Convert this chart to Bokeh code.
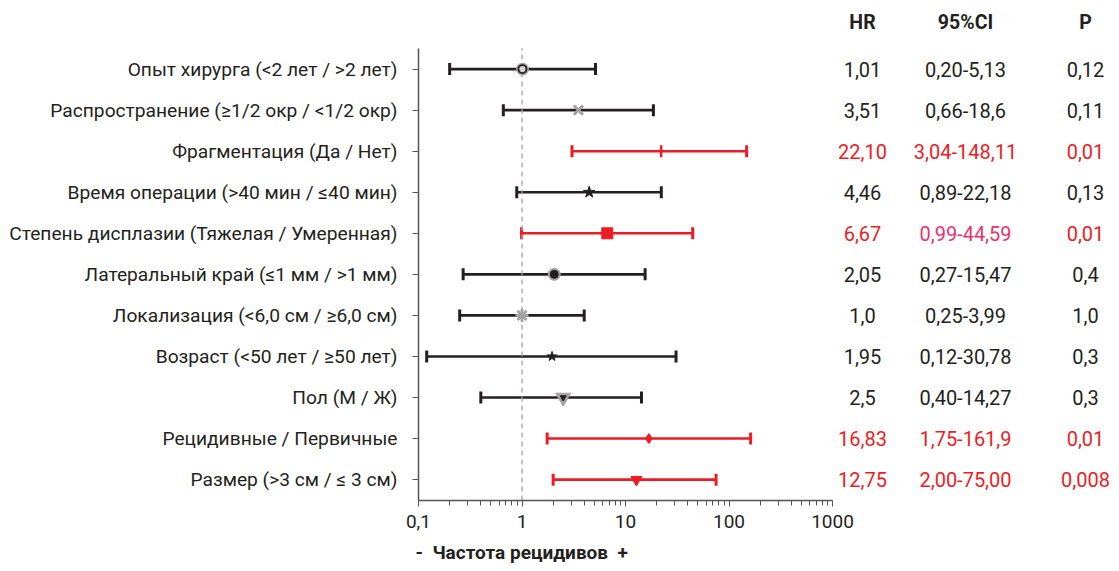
import math
from bokeh.plotting import figure
from bokeh.models import (ColumnDataSource, Whisker, TeeHead, FixedTicker,
                          CustomJSTickFormatter, Range1d, Title)
from bokeh.embed import file_html
from bokeh.resources import INLINE

# ---------------- data ----------------
labels = [
    "Опыт хирурга (<2 лет / >2 лет)",
    "Распространение (≥1/2 окр / <1/2 окр)",
    "Фрагментация (Да / Нет)",
    "Время операции (>40 мин / ≤40 мин)",
    "Степень дисплазии (Тяжелая / Умеренная)",
    "Латеральный край (≤1 мм / >1 мм)",
    "Локализация (<6,0 см / ≥6,0 см)",
    "Возраст (<50 лет / ≥50 лет)",
    "Пол (М / Ж)",
    "Рецидивные / Первичные",
    "Размер (>3 см / ≤ 3 см)",
]
hr = [1.01, 3.51, 22.10, 4.46, 6.67, 2.05, 1.0, 1.95, 2.5, 16.83, 12.75]
ci_lo = [0.20, 0.66, 3.04, 0.89, 0.99, 0.27, 0.25, 0.12, 0.40, 1.75, 2.00]
ci_hi = [5.13, 18.6, 148.11, 22.18, 44.59, 15.47, 3.99, 30.78, 14.27, 161.9, 75.00]
hr_text = ["1,01", "3,51", "22,10", "4,46", "6,67", "2,05", "1,0", "1,95", "2,5", "16,83", "12,75"]
ci_text = ["0,20-5,13", "0,66-18,6", "3,04-148,11", "0,89-22,18", "0,99-44,59", "0,27-15,47",
           "0,25-3,99", "0,12-30,78", "0,40-14,27", "1,75-161,9", "2,00-75,00"]
p_text = ["0,12", "0,11", "0,01", "0,13", "0,01", "0,4", "1,0", "0,3", "0,3", "0,01", "0,008"]
significant = [False, False, True, False, True, False, False, False, False, True, True]
x_ticks = [0.1, 1, 10, 100, 1000]
headers = ["HR", "95%CI", "P"]
x_title = "-\u00a0\u00a0Частота рецидивов\u00a0\u00a0+"

# ---------------- styles / layout ----------------
BLACK = "#231f20"
RED = "#ed1c24"
PINK = "#e8336d"
GRAY = "#a3a3a3"
AXIS = "#555555"
FONT = "Roboto"

W, H = 1119, 571
FRAME_LEFT, FRAME_BOTTOM = 418, 503      # canvas px
PX_DECADE = 103.5                          # px per decade on x
PX_ROW = 41.3                              # px per row on y
TOP_ROW_PX = 69                            # canvas y of first row
HEADER_PX = 22
COL_PX = [862, 965, 1085]                  # canvas x of the table columns

n = len(labels)
ys = [n - i for i in range(n)]
colors = [RED if s else BLACK for s in significant]
ci_colors = list(colors)
ci_colors[4] = PINK

# outer marker per row
markers = ["circle", "x", "dash", "star", "square", "circle", "asterisk", "star",
           "inverted_triangle", "diamond", "inverted_triangle"]
m_size = [12, 13, 12, 12, 11, 12, 13, 10, 15, 10, 11]
m_fill = [GRAY, GRAY, RED, BLACK, RED, GRAY, GRAY, BLACK, GRAY, RED, RED]
m_line = [GRAY, GRAY, RED, BLACK, RED, GRAY, GRAY, BLACK, GRAY, RED, RED]
m_lw = [1, 3, 2.5, 1, 1, 1, 2.8, 1, 1, 1, 1]
m_angle = [0, 0, math.pi / 2, 0, 0, 0, 0, 0, 0, 0, 0]
# inner marker for the rows that have one
inner_rows = [0, 5, 8]
inner_marker = ["circle", "circle", "inverted_triangle"]
inner_size = [8, 8, 6]
inner_fill = ["#d4d4d4", BLACK, BLACK]
inner_line = [BLACK, BLACK, BLACK]
inner_lw = [1.8, 1, 1]


def px_to_x(px):
    return 10 ** (math.log10(x_ticks[0]) + (px - FRAME_LEFT) / PX_DECADE)


def py_to_y(py):
    return n + (TOP_ROW_PX - py) / PX_ROW


y_top = py_to_y(0)
y_bot = py_to_y(FRAME_BOTTOM)
x_max = px_to_x(W)
axis_top = n + 0.51

p = figure(width=W, height=H, x_axis_type="log", output_backend="svg",
           toolbar_location=None, x_range=Range1d(x_ticks[0], x_max),
           y_range=Range1d(y_bot, y_top),
           min_border_left=FRAME_LEFT, min_border_right=0,
           min_border_top=0, min_border_bottom=H - FRAME_BOTTOM)
p.outline_line_color = None
p.xgrid.visible = False
p.ygrid.visible = False

# y axis
p.yaxis.ticker = FixedTicker(ticks=ys)
p.yaxis.bounds = (y_bot, axis_top)
p.yaxis.major_label_overrides = {y: lab for y, lab in zip(ys, labels)}
p.yaxis.major_label_text_font = FONT
p.yaxis.major_label_text_font_size = "19.2px"
p.yaxis.major_label_text_color = BLACK
p.yaxis.major_tick_out = 6
p.yaxis.major_tick_in = 0
p.yaxis.minor_tick_line_color = None
p.yaxis.axis_line_color = AXIS
p.yaxis.axis_line_width = 1.5
p.yaxis.major_tick_line_color = AXIS
p.yaxis.major_tick_line_width = 1.2
p.yaxis.major_label_standoff = 15

# x axis
minor = [m * 10 ** e for e in range(-1, 3) for m in range(2, 10)]
p.xaxis.ticker = FixedTicker(ticks=x_ticks, minor_ticks=minor)
p.xaxis.bounds = (x_ticks[0], x_ticks[-1])
p.xaxis.formatter = CustomJSTickFormatter(code="return String(tick).replace('.', ',');")
p.xaxis.major_label_text_font = FONT
p.xaxis.major_label_text_font_size = "19px"
p.xaxis.major_label_text_color = BLACK
p.xaxis.major_tick_out = 6
p.xaxis.major_tick_in = 0
p.xaxis.minor_tick_out = 5
p.xaxis.minor_tick_in = 0
p.xaxis.axis_line_color = AXIS
p.xaxis.axis_line_width = 1.5
p.xaxis.major_tick_line_color = AXIS
p.xaxis.minor_tick_line_color = AXIS
p.xaxis.major_label_standoff = 8

# reference line at HR = 1
p.segment(x0=[1], y0=[y_bot], x1=[1], y1=[axis_top], line_color=GRAY,
          line_dash="5 4", line_width=1.3)

# whiskers
for flag, col in [(False, BLACK), (True, RED)]:
    idx = [i for i in range(n) if significant[i] == flag]
    src = ColumnDataSource(dict(y=[ys[i] for i in idx], lo=[ci_lo[i] for i in idx],
                                hi=[ci_hi[i] for i in idx]))
    p.add_layout(Whisker(base="y", lower="lo", upper="hi", dimension="width", source=src,
                         line_color=col, line_width=2.6,
                         lower_head=TeeHead(size=12, line_color=col, line_width=3),
                         upper_head=TeeHead(size=12, line_color=col, line_width=3)))

# point markers
msrc = ColumnDataSource(dict(x=hr, y=ys, marker=markers, size=m_size, fill=m_fill,
                             line=m_line, lw=m_lw, angle=m_angle))
p.scatter("x", "y", source=msrc, marker="marker", size="size", fill_color="fill",
          line_color="line", line_width="lw", angle="angle")
isrc = ColumnDataSource(dict(x=[hr[i] for i in inner_rows], y=[ys[i] for i in inner_rows],
                             marker=inner_marker, size=inner_size, fill=inner_fill,
                             line=inner_line, lw=inner_lw))
p.scatter("x", "y", source=isrc, marker="marker", size="size", fill_color="fill",
          line_color="line", line_width="lw")

# table columns
col_x = [px_to_x(c) for c in COL_PX]
for cx, vals, cols in [(col_x[0], hr_text, colors), (col_x[1], ci_text, ci_colors),
                       (col_x[2], p_text, colors)]:
    p.text(x=[cx] * n, y=ys, text=vals, text_color=cols, text_font={"value": FONT},
           text_font_size="20px", text_align="center", text_baseline="middle")

hy = py_to_y(HEADER_PX)
p.text(x=col_x, y=[hy] * 3, text=headers, text_color=BLACK, text_font={"value": FONT},
       text_font_size="19.5px", text_font_style="bold", text_align="center",
       text_baseline="middle")

p.add_layout(Title(text=x_title, align="left", offset=-3, standoff=16,
                   text_font=FONT, text_font_size="19px", text_font_style="bold",
                   text_color=BLACK), "below")

open("out.html", "w").write(file_html(p, INLINE))
